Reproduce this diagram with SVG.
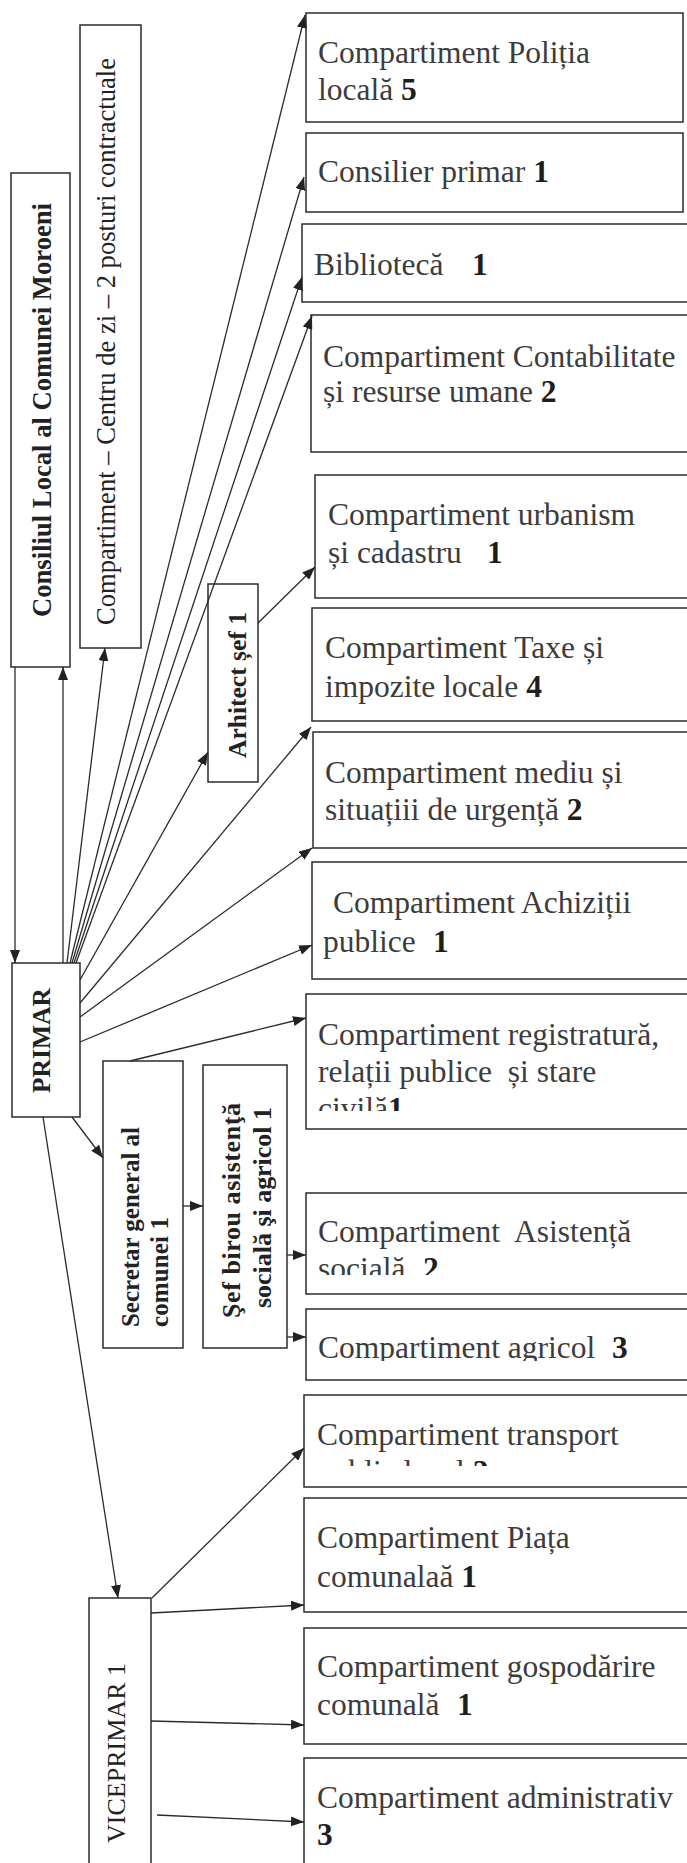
<svg xmlns="http://www.w3.org/2000/svg" width="687" height="1863" viewBox="0 0 687 1863">
<defs>
<style>
.box{fill:#fff;stroke:#2b2b2b;stroke-width:1.5}
.t{font-family:"Liberation Serif","Times New Roman",serif;font-size:31.5px;fill:#3c3c3c;white-space:pre}
.b{font-weight:bold;fill:#1e1e1e}
.v{font-family:"Liberation Serif","Times New Roman",serif;fill:#222}
.c{fill:none;stroke:#2b2b2b;stroke-width:1.3;marker-end:url(#ah)}
</style>
<marker id="ah" viewBox="0 0 13 10" refX="13" refY="5" markerWidth="13" markerHeight="10" markerUnits="userSpaceOnUse" orient="auto"><path d="M0,0 L13,5 L0,10 z" fill="#222"/></marker>
<clipPath id="cpReg"><rect x="300" y="990" width="400" height="121"/></clipPath>
<clipPath id="cpAs"><rect x="300" y="1190" width="400" height="85"/></clipPath>
<clipPath id="cpAg"><rect x="300" y="1305" width="400" height="56"/></clipPath>
<clipPath id="cpTr"><rect x="300" y="1390" width="400" height="76"/></clipPath>
</defs>
<rect width="687" height="1863" fill="#fff"/>

<g id="consiliul">
<rect class="box" x="11" y="173" width="59" height="494"/>
<text class="v b" font-size="26.6" transform="translate(51,617) rotate(-90)" textLength="414">Consiliul Local al Comunei Moroeni</text>
</g>
<g id="centru-zi">
<rect class="box" x="80" y="25" width="61" height="623"/>
<text class="v" font-size="26.6" fill="#333" transform="translate(115,625) rotate(-90)" textLength="567">Compartiment – Centru de zi – 2 posturi contractuale</text>
</g>
<g id="arhitect">
<rect class="box" x="208" y="584" width="50" height="198"/>
<text class="v b" font-size="25.5" transform="translate(246,758) rotate(-90)" textLength="146">Arhitect șef 1</text>
</g>
<g id="primar">
<rect class="box" x="12" y="963" width="68" height="154"/>
<text class="v b" font-size="25.5" transform="translate(50,1093) rotate(-90)" textLength="105">PRIMAR</text>
</g>
<g id="secretar">
<rect class="box" x="103" y="1061" width="80" height="287"/>
<text class="v b" font-size="25" transform="translate(139,1327) rotate(-90)" textLength="200">Secretar general al</text>
<text class="v b" font-size="25" transform="translate(168,1327) rotate(-90)" textLength="110">comunei 1</text>
</g>
<g id="sef-birou">
<rect class="box" x="203" y="1065" width="84" height="283"/>
<text class="v b" font-size="26" transform="translate(240,1318) rotate(-90)" textLength="215">Şef birou asistenţă</text>
<text class="v b" font-size="26" transform="translate(271,1308) rotate(-90)" textLength="201">socială şi agricol 1</text>
</g>
<g id="viceprimar">
<rect class="box" x="89" y="1598" width="62" height="280"/>
<text class="v" font-size="26" fill="#333" transform="translate(125,1843) rotate(-90)" textLength="180">VICEPRIMAR 1</text>
</g>

<g id="politia">
<rect class="box" x="306" y="13" width="377" height="109"/>
<text class="t" x="318" y="63">Compartiment Poliția</text>
<text class="t" x="318" y="100">locală <tspan class="b">5</tspan></text>
</g>
<g id="consilier">
<rect class="box" x="306" y="133" width="377" height="79"/>
<text class="t" x="318" y="182">Consilier primar <tspan class="b">1</tspan></text>
</g>
<g id="biblioteca">
<rect class="box" x="302" y="224" width="400" height="78"/>
<text class="t" x="314" y="275">Bibliotecă<tspan class="b" x="472">1</tspan></text>
</g>
<g id="contabilitate">
<rect class="box" x="311" y="315" width="400" height="137"/>
<text class="t" x="323" y="367">Compartiment Contabilitate</text>
<text class="t" x="323" y="402">și resurse umane <tspan class="b">2</tspan></text>
</g>
<g id="urbanism">
<rect class="box" x="315" y="475" width="400" height="123"/>
<text class="t" x="328" y="525">Compartiment urbanism</text>
<text class="t" x="328" y="563">și cadastru<tspan class="b" x="487">1</tspan></text>
</g>
<g id="taxe">
<rect class="box" x="312" y="608" width="400" height="113"/>
<text class="t" x="325" y="658">Compartiment Taxe și</text>
<text class="t" x="325" y="697">impozite locale <tspan class="b">4</tspan></text>
</g>
<g id="mediu">
<rect class="box" x="313" y="732" width="400" height="116"/>
<text class="t" x="325" y="783">Compartiment mediu și</text>
<text class="t" x="325" y="820">situațiii de urgență <tspan class="b">2</tspan></text>
</g>
<g id="achizitii">
<rect class="box" x="312" y="862" width="400" height="117"/>
<text class="t" x="333" y="913">Compartiment Achiziții</text>
<text class="t" x="323" y="952">publice<tspan class="b" x="433">1</tspan></text>
</g>
<g id="registratura">
<rect class="box" x="306" y="994" width="400" height="135"/>
<text class="t" x="318" y="1045">Compartiment registratură,</text>
<text class="t" x="318" y="1082" xml:space="preserve">relații publice  și stare</text>
<text class="t" x="318" y="1119" clip-path="url(#cpReg)">civilă<tspan class="b">1</tspan></text>
</g>
<g id="asistenta">
<rect class="box" x="306" y="1193" width="400" height="101"/>
<text class="t" x="318" y="1242" xml:space="preserve">Compartiment  Asistență</text>
<text class="t" x="318" y="1279" clip-path="url(#cpAs)">socială<tspan class="b" x="423">2</tspan></text>
</g>
<g id="agricol">
<rect class="box" x="306" y="1309" width="400" height="71"/>
<text class="t" x="318" y="1358" clip-path="url(#cpAg)">Compartiment agricol<tspan class="b" x="612">3</tspan></text>
</g>
<g id="transport">
<rect class="box" x="304" y="1395" width="400" height="92"/>
<text class="t" x="317" y="1445">Compartiment transport</text>
<text class="t" x="317" y="1482" clip-path="url(#cpTr)">public local <tspan class="b">2</tspan></text>
</g>
<g id="piata">
<rect class="box" x="304" y="1498" width="400" height="114"/>
<text class="t" x="317" y="1548">Compartiment Piața</text>
<text class="t" x="317" y="1587">comunalaă <tspan class="b">1</tspan></text>
</g>
<g id="gospodarire">
<rect class="box" x="304" y="1628" width="400" height="116"/>
<text class="t" x="317" y="1677">Compartiment gospodărire</text>
<text class="t" x="317" y="1715">comunală<tspan class="b" x="457">1</tspan></text>
</g>
<g id="administrativ">
<rect class="box" x="304" y="1758" width="400" height="130"/>
<text class="t" x="317" y="1808">Compartiment administrativ</text>
<text class="t b" x="317" y="1845">3</text>
</g>

<g id="connectors">
<path class="c" d="M15,667 L15,963"/>
<path class="c" d="M63,963 L63,667"/>
<path class="c" d="M67,963 L105,648"/>
<path class="c" d="M70,963 L305,15"/>
<path class="c" d="M72,963 L304,177"/>
<path class="c" d="M74,963 L302,277"/>
<path class="c" d="M76,963 L312,316"/>
<path class="c" d="M80,980 L208,752"/>
<path class="c" d="M258,623 L315,567"/>
<path class="c" d="M80,1003 L311,727"/>
<path class="c" d="M80,1017 L312,848"/>
<path class="c" d="M80,1042 L312,945"/>
<path class="c" d="M130,1061 L306,1018"/>
<path class="c" d="M72,1117 L103,1158"/>
<path class="c" d="M183,1206 L203,1206"/>
<path class="c" d="M287,1255 L306,1255"/>
<path class="c" d="M287,1337 L306,1337"/>
<path class="c" d="M43,1117 L118,1598"/>
<path class="c" d="M152,1598 L304,1448"/>
<path class="c" d="M151,1613 L304,1605"/>
<path class="c" d="M151,1721 L304,1725"/>
<path class="c" d="M157,1815 L304,1822"/>
</g>
</svg>
